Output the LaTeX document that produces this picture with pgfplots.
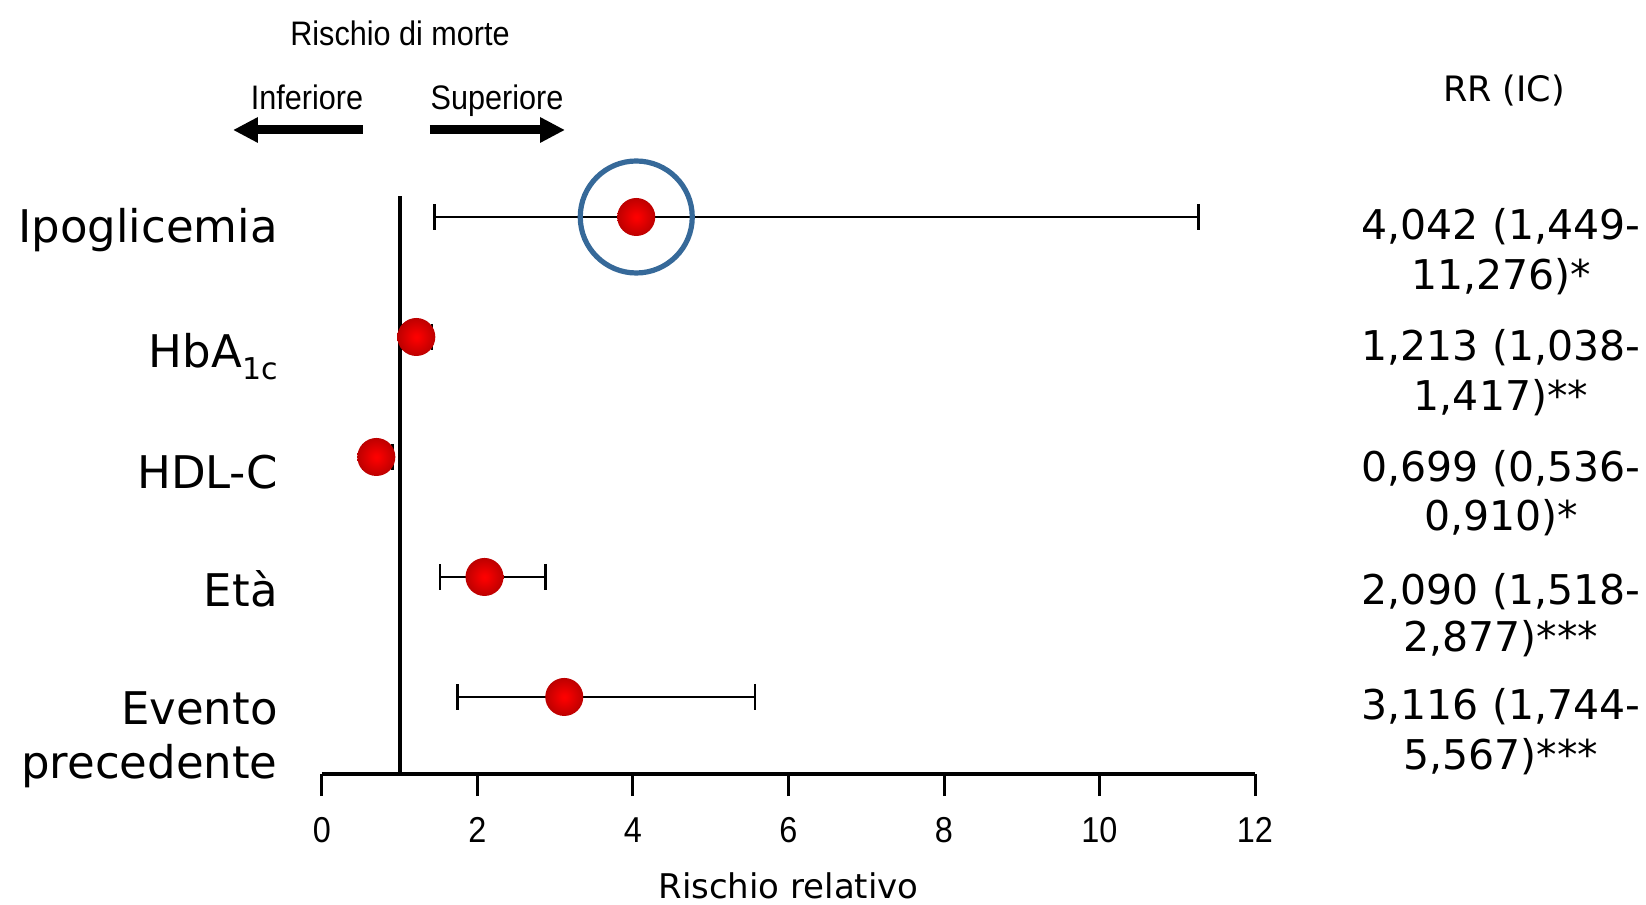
\documentclass[border=0pt]{standalone}
\usepackage{pgfplots}
\pgfplotsset{compat=1.18}
\usepackage{pgfplotstable}
\usepackage{fontspec}
\setmainfont{DejaVu Sans}
\newfontfamily\narrowsans{Liberation Sans}[FakeStretch=0.9]
\usetikzlibrary{arrows.meta}

\definecolor{ringblue}{RGB}{54,105,153}

% red sphere-like marker: bright centre, darker rim
\pgfdeclareradialshading{redball}{\pgfpoint{0bp}{0bp}}{%
  color(0bp)=(red); color(4bp)=(red!97!black);
  color(25bp)=(red!74!black); color(50bp)=(red!74!black)}
\pgfdeclareplotmark{redball}{%
  \pgfpathcircle{\pgfpointorigin}{\pgfplotmarksize}%
  \pgfshadepath{redball}{0}%
  \pgfusepath{discard}}

% relative risk with confidence interval, one row per factor
\pgfplotstableread{
row rr    lo    hi
5   4.042 1.449 11.276
4   1.213 1.038 1.417
3   0.699 0.536 0.910
2   2.090 1.518 2.877
1   3.116 1.744 5.567
}\rrdata

\begin{document}
\begin{tikzpicture}
\path[use as bounding box] (-161pt,-65.5pt) rectangle (662pt,387pt);
\begin{axis}[
  at={(0pt,0pt)}, anchor=south west,
  scale only axis, width=466.5pt, height=289pt,
  xmin=0, xmax=12, ymin=0.358, ymax=5.175,
  clip=false,
  axis x line*=bottom, axis y line=none,
  x axis line style={line width=2pt, -},
  xtick={0,2,...,12}, ytick=\empty,
  tick align=outside, major tick length=11pt,
  tick style={line width=1.5pt, black},
  /pgf/number format/assume math mode=true,
  xticklabel style={font=\narrowsans\fontsize{18}{18}\selectfont, anchor=base, yshift=-23pt},
]
% reference line at RR = 1
\addplot[black, line width=2pt] coordinates {(1,0.358) (1,5.175)};
% confidence intervals
\addplot[only marks, mark=none,
  error bars/.cd, x dir=both, x explicit,
  error bar style={draw=black, line width=1pt},
  error mark options={draw=black, rotate=90, mark size=6.5pt, line width=1.3pt}]
  table[x=rr, y=row,
        x error plus expr=\thisrow{hi}-\thisrow{rr},
        x error minus expr=\thisrow{rr}-\thisrow{lo}] {\rrdata};
% highlight ring
\addplot[only marks, mark=o, mark size=28pt,
  mark options={draw=ringblue, line width=2.6pt}] coordinates {(4.042,5)};
% point estimates
\addplot[only marks, mark=redball, mark size=9.5pt] table[x=rr, y=row] {\rrdata};
\end{axis}

% row labels
\begin{scope}[every node/.style={anchor=base east, inner sep=0pt, font=\fontsize{22.5}{27}\selectfont}]
\node at (-22pt,265.5pt) {Ipoglicemia};
\node at (-22pt,203pt) {HbA\raisebox{-6pt}{\fontsize{15}{15}\selectfont 1c}};
\node at (-22pt,142.5pt) {HDL-C};
\node at (-22pt,83.5pt) {Età};
\node at (-22pt,24.5pt) {Evento};
\node at (-22pt,-2.5pt) {precedente};
\end{scope}

% RR (IC) column
\node[anchor=base, inner sep=0pt, font=\fontsize{17.5}{20}\selectfont] at (591pt,336pt) {RR (IC)};
\begin{scope}[every node/.style={anchor=base, inner sep=0pt, font=\fontsize{20.5}{24}\selectfont}]
\node at (589.5pt,267pt) {4,042 (1,449-};
\node at (589.5pt,242pt) {11,276)*};
\node at (589.5pt,206.5pt) {1,213 (1,038-};
\node at (589.5pt,181.5pt) {1,417)**};
\node at (589.5pt,146pt) {0,699 (0,536-};
\node at (589.5pt,121.5pt) {0,910)*};
\node at (589.5pt,84.5pt) {2,090 (1,518-};
\node at (589.5pt,61pt) {2,877)***};
\node at (589.5pt,27pt) {3,116 (1,744-};
\node at (589.5pt,2pt) {5,567)***};
\end{scope}

% direction header
\begin{scope}[every node/.style={anchor=base, inner sep=0pt, font=\narrowsans\fontsize{17}{19}\selectfont}]
\node at (39pt,364pt) {Rischio di morte};
\node at (-7.5pt,332pt) {Inferiore};
\node at (87.5pt,332pt) {Superiore};
\end{scope}
\draw[line width=4.5pt, -{Triangle[length=12.5pt,width=12pt]}] (20.5pt,322pt) -- (-44.5pt,322pt);
\draw[line width=4.5pt, -{Triangle[length=12.5pt,width=12pt]}] (54pt,322pt) -- (121.5pt,322pt);

% x axis title
\node[anchor=base, inner sep=0pt, font=\fontsize{17}{19}\selectfont] at (233.25pt,-62.5pt) {Rischio relativo};
\end{tikzpicture}
\end{document}
